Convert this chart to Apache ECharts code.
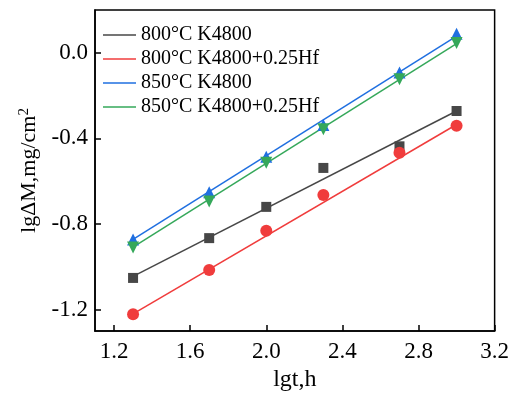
<!DOCTYPE html>
<html>
<head>
<meta charset="utf-8">
<script src="https://cdn.jsdelivr.net/npm/echarts@6/dist/echarts.min.js"></script>
<style>html,body{margin:0;padding:0;background:#fff;}#c{width:512px;height:397px;}</style>
</head>
<body>
<div id="c"></div>
<script>
// lg t (h)
const lgt = [1.3, 1.7, 2.0, 2.3, 2.7, 3.0];
// lg ΔM (mg/cm2) measured points
const k800 = [-1.052, -0.866, -0.72, -0.538, -0.437, -0.272];
const k800hf = [-1.222, -1.015, -0.831, -0.665, -0.467, -0.341];
const k850 = [-0.872, -0.652, -0.486, -0.337, -0.092, 0.089];
const k850hf = [-0.91, -0.695, -0.514, -0.357, -0.124, 0.046];
// fitted line endpoints
const fitX = [1.3, 3.0];
const fit800 = [-1.045, -0.272];
const fit800hf = [-1.22, -0.335];
const fit850 = [-0.872, 0.078];
const fit850hf = [-0.908, 0.043];
// tick labels
const xTicks = [1.2, 1.6, 2.0, 2.4, 2.8, 3.2];
const yTicks = [-1.2, -0.8, -0.4, 0.0];
const names = ['800°C K4800', '800°C K4800+0.25Hf', '850°C K4800', '850°C K4800+0.25Hf'];
const colors = ['#474747', '#f03c3c', '#1f6fe0', '#35a85a'];

const font = 'Liberation Serif';
const pts = (ys) => lgt.map((x, i) => [x, ys[i]]);
const fit = (ys) => fitX.map((x, i) => [x, ys[i]]);

const lineSeries = [fit800, fit800hf, fit850, fit850hf].map((ys, i) => ({
  name: names[i], type: 'line', data: fit(ys), symbol: 'none',
  lineStyle: { color: colors[i], width: 1.5 }, itemStyle: { color: colors[i] }, z: 2
}));
const symbols = [
  { symbol: 'rect', size: 10, rot: 0 },
  { symbol: 'circle', size: 12, rot: 0 },
  { symbol: 'triangle', size: 12, rot: 0 },
  { symbol: 'triangle', size: 12, rot: 180 }
];
const scatterSeries = [k800, k800hf, k850, k850hf].map((ys, i) => ({
  name: 'pts' + i, type: 'scatter', data: pts(ys), symbol: symbols[i].symbol,
  symbolSize: symbols[i].size, symbolRotate: symbols[i].rot,
  itemStyle: { color: colors[i], opacity: 1 }, z: 3
}));

const chart = echarts.init(document.getElementById('c'), null, { renderer: 'canvas' });
chart.setOption({
  animation: false,
  backgroundColor: '#fff',
  textStyle: { fontFamily: font },
  grid: { left: 95, top: 10, width: 403, height: 324, show: true, borderColor: '#000', borderWidth: 1.5, backgroundColor: 'transparent' },
  legend: {
    data: names.map((n, i) => ({ name: n, icon: 'rect', itemStyle: { color: colors[i] } })),
    orient: 'vertical', left: 103, top: 25, padding: 0,
    itemWidth: 33, itemHeight: 1.5, itemGap: 4,
    textStyle: { fontFamily: font, fontSize: 20, color: '#000' }
  },
  xAxis: {
    type: 'value', min: 1.1, max: 3.2,
    name: 'lgt,h', nameLocation: 'middle', nameGap: 37,
    nameTextStyle: { fontFamily: font, fontSize: 24, color: '#000' },
    axisLine: { show: true, onZero: false, lineStyle: { color: '#000', width: 1.5 } },
    axisTick: { show: true, inside: true, length: 6, customValues: xTicks, lineStyle: { color: '#000', width: 1.5 } },
    axisLabel: { customValues: xTicks, fontFamily: font, fontSize: 23, color: '#000', margin: 9, formatter: v => v.toFixed(1) },
    splitLine: { show: false }
  },
  yAxis: {
    type: 'value', min: -1.3, max: 0.2,
    name: 'lgΔM,mg/cm{sup|2}', nameLocation: 'middle', nameGap: 51,
    nameTextStyle: { fontFamily: font, fontSize: 22, color: '#000', rich: { sup: { fontFamily: font, fontSize: 15, color: '#000', padding: [0, 0, 11, 0] } } },
    axisLine: { show: true, onZero: false, lineStyle: { color: '#000', width: 1.5 } },
    axisTick: { show: true, inside: true, length: 6, customValues: yTicks, lineStyle: { color: '#000', width: 1.5 } },
    axisLabel: { customValues: yTicks, fontFamily: font, fontSize: 23, color: '#000', margin: 7, formatter: v => v.toFixed(1) },
    splitLine: { show: false }
  },
  series: lineSeries.concat(scatterSeries)
});
</script>
</body>
</html>
